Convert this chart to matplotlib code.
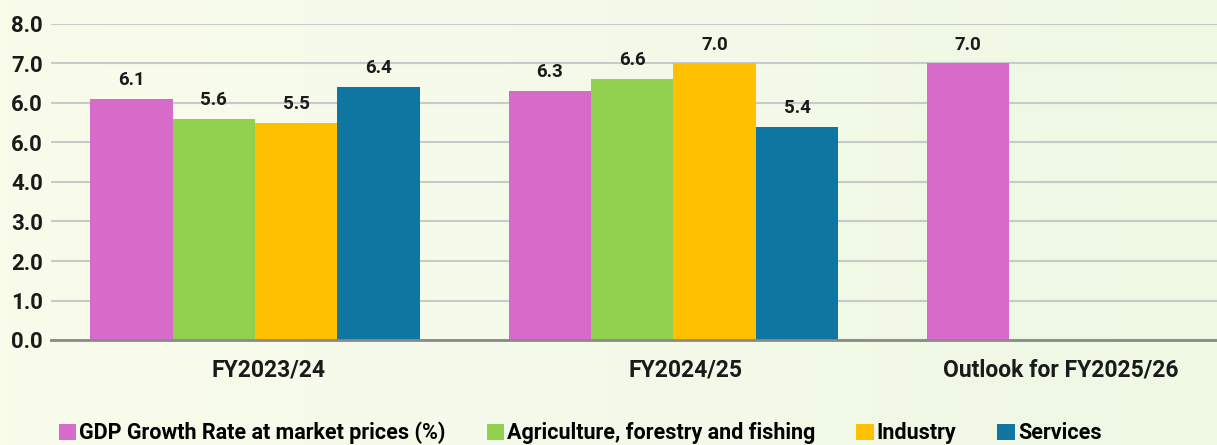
import numpy as np
import matplotlib.pyplot as plt
from matplotlib.colors import LinearSegmentedColormap

plt.rcParams['font.family'] = ['Roboto', 'DejaVu Sans']
plt.rcParams['font.weight'] = 'bold'

periods = ['FY2023/24', 'FY2024/25', 'Outlook for FY2025/26']
series = ['GDP Growth Rate at market prices (%)', 'Agriculture, forestry and fishing',
          'Industry', 'Services']
gdp = [6.1, 6.3, 7.0]
agriculture = [5.6, 6.6, np.nan]
industry = [5.5, 7.0, np.nan]
services = [6.4, 5.4, np.nan]
colors = ['#d76bca', '#92d050', '#ffc000', '#0e76a0']

# y tick texts as printed on the chart
ytick_vals = [0, 1, 2, 3, 4, 5, 6, 7, 8]
ytick_text = ['0.0', '1.0', '2.0', '3.0', '4.0', '6.0', '6.0', '7.0', '8.0']

fig = plt.figure(figsize=(12.17, 4.45), dpi=100)

# soft green background
bg = fig.add_axes([0, 0, 1, 1], zorder=-10)
grad = np.linspace(0, 1, 256).reshape(1, -1)
cmap = LinearSegmentedColormap.from_list('bg', ['#fafcea', '#f4faea', '#eef8e3'])
bg.imshow(grad, aspect='auto', cmap=cmap, extent=[0, 1, 0, 1])
bg.axis('off')

ax = fig.add_axes([51 / 1217, 1 - 340 / 445, 1 - 51 / 1217, (340 - 24) / 445])
ax.patch.set_alpha(0)

x = np.arange(len(periods))
w = 0.197
handles = []
for i, (vals, name, c) in enumerate(zip([gdp, agriculture, industry, services], series, colors)):
    pos = x + (i - 1.5) * w
    bars = ax.bar(pos, vals, w, color=c, label=name, zorder=3)
    handles.append(bars)
    for p, v in zip(pos, vals):
        if not np.isnan(v):
            ax.text(p, v + 0.25, f'{v:.1f}', ha='center', va='bottom',
                    fontsize=13.5, fontweight='bold', color='#1a1a1a')

ax.set_xlim(-0.4875, 2.299)
ax.set_ylim(0, 8)
ax.set_yticks(ytick_vals)
ax.set_yticklabels(ytick_text)
ax.set_xticks([0.033, 1.03, 1.925])
ax.set_xticklabels(periods)
ax.tick_params(axis='both', length=0, labelsize=16, labelcolor='#1a1a1a')
ax.tick_params(axis='y', pad=6)
ax.tick_params(axis='x', pad=13, labelsize=16.5)
for lab in ax.get_xticklabels() + ax.get_yticklabels():
    lab.set_fontweight('bold')

ax.grid(axis='y', color='#c9c9c9', linewidth=1.5, zorder=0)
for s in ['top', 'right', 'left']:
    ax.spines[s].set_visible(False)
ax.spines['bottom'].set_color('#8a8a8a')
ax.spines['bottom'].set_linewidth(2)
ax.spines['bottom'].set_zorder(4)

fig.legend(handles=handles, labels=series, loc='center left',
           bbox_to_anchor=(59 / 1217, 1 - 433 / 445), ncol=4, frameon=False,
           handlelength=0.8, handleheight=0.8, handletextpad=0.15,
           columnspacing=1.9, borderaxespad=0, borderpad=0,
           prop={'weight': 'bold', 'size': 15.5})

fig.savefig('out.png', dpi=100)
